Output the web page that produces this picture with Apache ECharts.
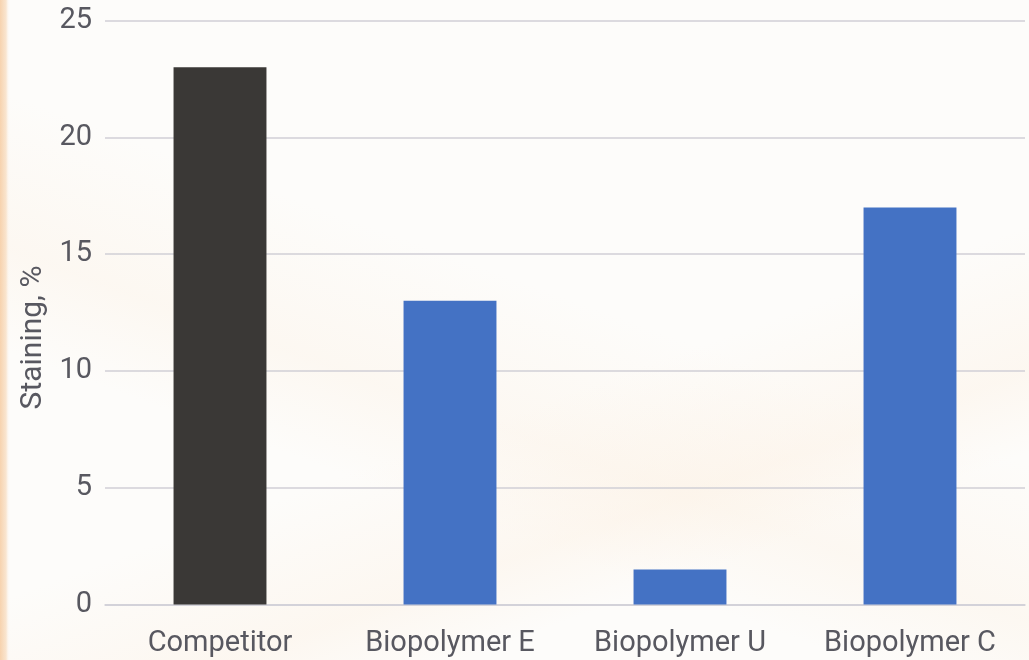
<!DOCTYPE html>
<html>
<head>
<meta charset="utf-8">
<script src="https://cdn.jsdelivr.net/npm/echarts@6/dist/echarts.min.js"></script>
<style>
html,body{margin:0;padding:0;width:1029px;height:660px;overflow:hidden;}
body{
  background:
    linear-gradient(to right, rgba(246,206,166,0.9) 0px, rgba(248,220,190,0.7) 6px, rgba(252,238,224,0.3) 8px, rgba(255,255,255,0) 10px),
    linear-gradient(160deg, rgba(255,255,255,0) 58%, rgba(252,240,226,0.4) 72%, rgba(255,255,255,0) 80%),
    linear-gradient(200deg, rgba(255,255,255,0) 45%, rgba(251,238,222,0.3) 60%, rgba(255,255,255,0) 70%),
    #fdfcfa;
}
#chart{width:1029px;height:660px;}
</style>
</head>
<body>
<div id="chart"></div>
<script>
var categories = ["Competitor", "Biopolymer E", "Biopolymer U", "Biopolymer C"];
var stainingValues = [23, 13, 1.5, 17];
var barColors = ["#3a3836", "#4472c4", "#4472c4", "#4472c4"];
var yTicks = [0, 5, 10, 15, 20, 25];
var yAxisTitle = "Staining, %";

var chart = echarts.init(document.getElementById('chart'), null, {renderer: 'canvas'});
var textColor = '#585860';
chart.setOption({
  backgroundColor: 'transparent',
  animation: false,
  grid: {left: 105, right: 4, top: 20.5, bottom: 55.5, containLabel: false},
  xAxis: {
    type: 'category',
    data: categories,
    axisLine: {show: true, lineStyle: {color: '#d0cfd6', width: 1.5}},
    axisTick: {show: false},
    axisLabel: {color: textColor, fontFamily: 'Roboto', fontSize: 29, margin: 25}
  },
  yAxis: {
    type: 'value',
    min: yTicks[0],
    max: yTicks[yTicks.length - 1],
    interval: 5,
    name: yAxisTitle,
    nameLocation: 'middle',
    nameGap: 49,
    nameRotate: 90,
    nameTextStyle: {color: textColor, fontFamily: 'Roboto', fontSize: 30, padding: [0, 50, 0, 0]},
    axisLine: {show: false},
    axisTick: {show: false},
    axisLabel: {color: textColor, fontFamily: 'Roboto', fontSize: 29, margin: 13},
    splitLine: {lineStyle: {color: '#d0cfd6', width: 1.5}}
  },
  series: [{
    type: 'bar',
    data: stainingValues.map(function (v, i) {
      return {value: v, itemStyle: {color: barColors[i]}};
    }),
    barWidth: '40.4%'
  }]
});
</script>
</body>
</html>
